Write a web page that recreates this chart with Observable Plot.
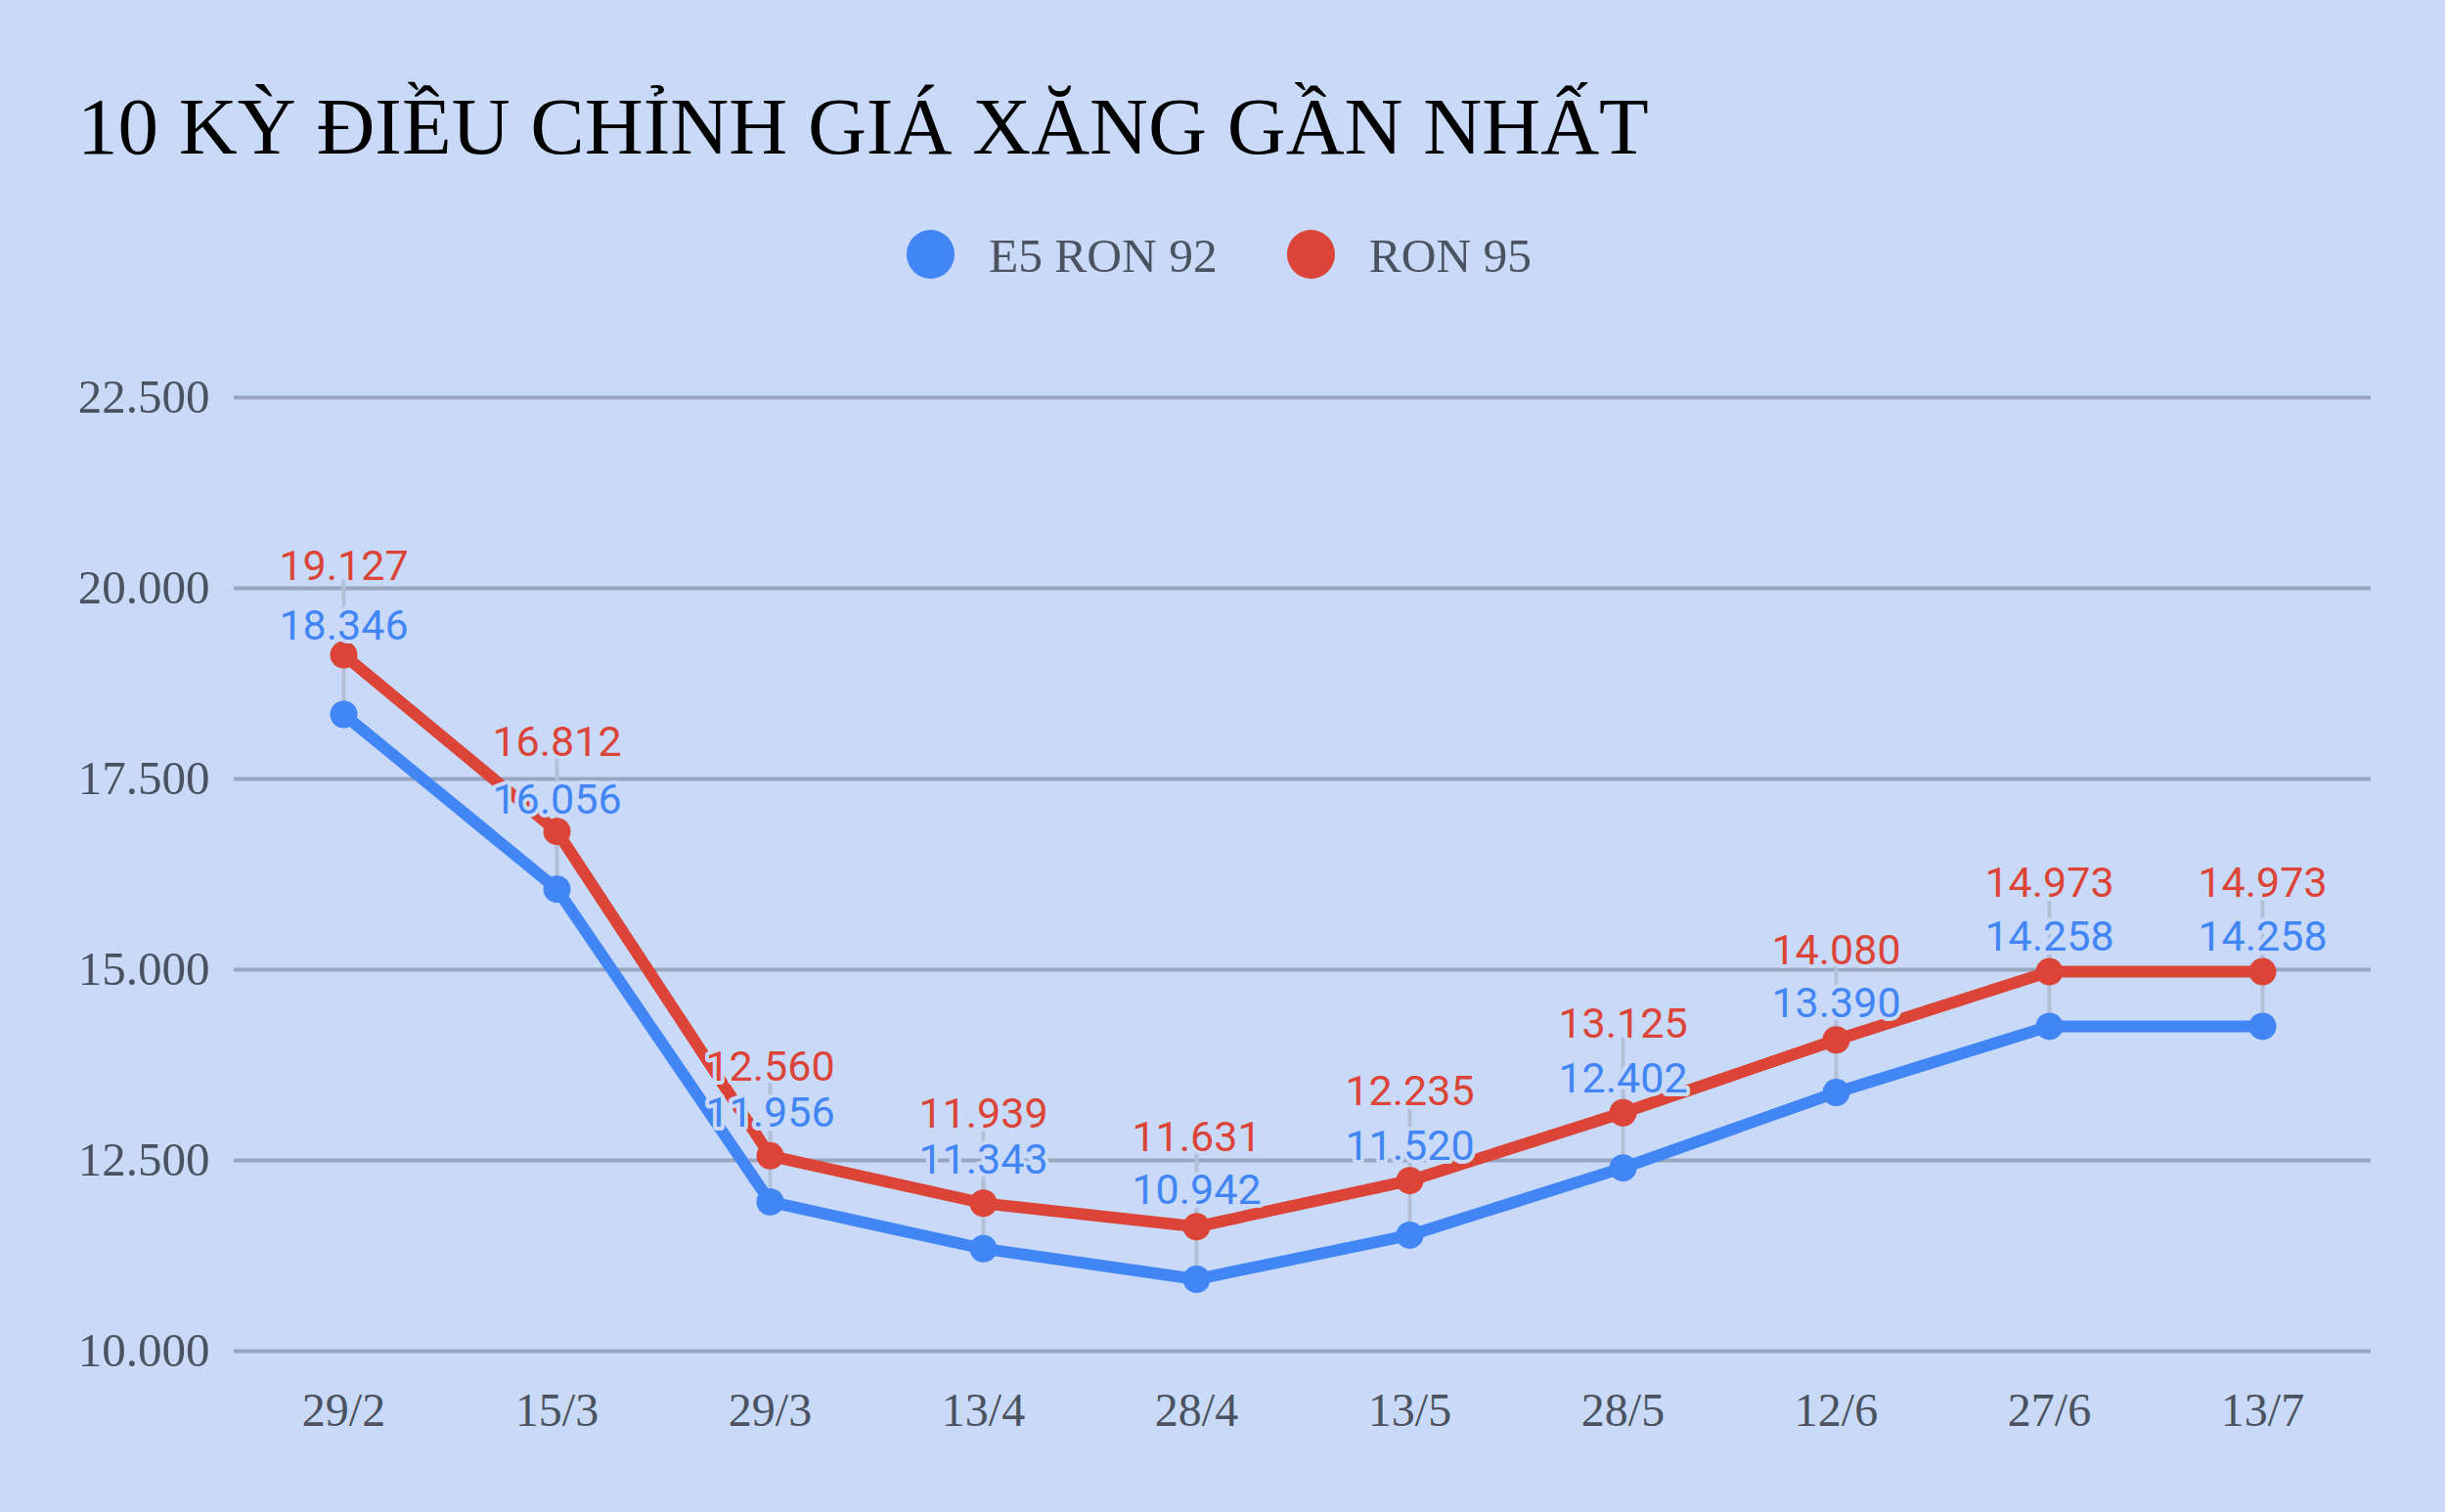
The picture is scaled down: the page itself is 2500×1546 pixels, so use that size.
<!DOCTYPE html>
<html>
<head>
<meta charset="utf-8">
<script src="https://cdn.jsdelivr.net/npm/d3@7"></script>
<script src="https://cdn.jsdelivr.net/npm/@observablehq/plot@0.6"></script>
<style>
  html, body { margin: 0; padding: 0; background: #c9daf8; }
  body { width: 2500px; height: 1546px; position: relative; overflow: hidden; }
  #title {
    position: absolute; left: 79px; top: 88px; margin: 0;
    font-family: "Liberation Serif", "Times New Roman", serif;
    font-weight: normal; font-size: 83px; line-height: 1; color: #000;
    white-space: nowrap;
  }
  #legend {
    position: absolute; left: 0; width: 2493px; top: 235px; height: 50px;
    display: flex; justify-content: center; align-items: center;
    font-family: "Liberation Serif", "Times New Roman", serif;
    font-size: 49.5px; color: #4b5260;
  }
  .item { display: flex; align-items: center; height: 50px; }
  .item + .item { margin-left: 71px; }
  .sw { width: 49px; height: 50px; border-radius: 50%; margin-right: 35px; }
  .lab { line-height: 50px; padding-top: 3px; }
  #chart { position: absolute; left: 0; top: 330px; }
</style>
</head>
<body>
<div id="title"></div>
<div id="legend"></div>
<div id="chart"></div>
<script>
const titleText = "10 KỲ ĐIỀU CHỈNH GIÁ XĂNG GẦN NHẤT";
const dates = ["29/2", "15/3", "29/3", "13/4", "28/4", "13/5", "28/5", "12/6", "27/6", "13/7"];
const seriesNames = ["E5 RON 92", "RON 95"];
const seriesColors = ["#4285f4", "#db4437"];
const e5Ron92 = [18346, 16056, 11956, 11343, 10942, 11520, 12402, 13390, 14258, 14258];
const ron95 = [19127, 16812, 12560, 11939, 11631, 12235, 13125, 14080, 14973, 14973];
const yTicks = [10000, 12500, 15000, 17500, 20000, 22500];

document.getElementById("title").textContent = titleText;
const legend = document.getElementById("legend");
seriesNames.forEach((name, i) => {
  const item = document.createElement("div");
  item.className = "item";
  const sw = document.createElement("div");
  sw.className = "sw";
  sw.style.background = seriesColors[i];
  const lab = document.createElement("div");
  lab.className = "lab";
  lab.textContent = name;
  item.appendChild(sw);
  item.appendChild(lab);
  legend.appendChild(item);
});

const data = [
  ...dates.map((d, i) => ({date: d, series: seriesNames[0], value: e5Ron92[i]})),
  ...dates.map((d, i) => ({date: d, series: seriesNames[1], value: ron95[i]}))
];

const W = 2500, H = 1216;
const mTop = 76, mBottom = 165, mLeft = 239, mRight = 76;
const yDomain = [yTicks[0], yTicks[yTicks.length - 1]];
const labelOffset = 77; // px above each point
const leadUnits = labelOffset * (yDomain[1] - yDomain[0]) / (H - mTop - mBottom);
const fmt = v => d3.format(",")(v).replace(/,/g, ".");

const chart = Plot.plot({
  width: W, height: H,
  marginTop: mTop, marginBottom: mBottom, marginLeft: mLeft, marginRight: mRight,
  style: {background: "transparent", fontFamily: "Liberation Serif, Times New Roman, serif", fontSize: "48px", color: "#4b5260", overflow: "visible"},
  x: {type: "point", domain: dates, padding: 0.5, label: null},
  y: {domain: yDomain, ticks: yTicks, label: null},
  color: {domain: seriesNames, range: seriesColors},
  marks: [
    Plot.gridY(yTicks, {stroke: "#98a6bf", strokeOpacity: 1, strokeWidth: 4}),
    Plot.axisY(yTicks, {tickSize: 0, tickPadding: 25, tickFormat: fmt, fontSize: 49, fill: "#4b5260", label: null}),
    Plot.axisX({tickSize: 0, tickPadding: 42, fontSize: 48, fill: "#4b5260", label: null}),
    Plot.ruleX(data, {x: "date", y1: "value", y2: d => d.value + leadUnits, stroke: "#b3c0d8", strokeWidth: 4}),
    Plot.line(data, {x: "date", y: "value", z: "series", stroke: "series", strokeWidth: 12, strokeLinejoin: "round", strokeLinecap: "round"}),
    Plot.dot(data, {x: "date", y: "value", fill: "series", r: 14}),
    Plot.text(data, {
      x: "date", y: "value", text: d => fmt(d.value), fill: "series",
      lineAnchor: "bottom", dy: -labelOffset, fontSize: 43,
      fontFamily: "Roboto", stroke: "#c9daf8", strokeWidth: 8, paintOrder: "stroke"
    })
  ]
});
document.getElementById("chart").appendChild(chart);
</script>
</body>
</html>
